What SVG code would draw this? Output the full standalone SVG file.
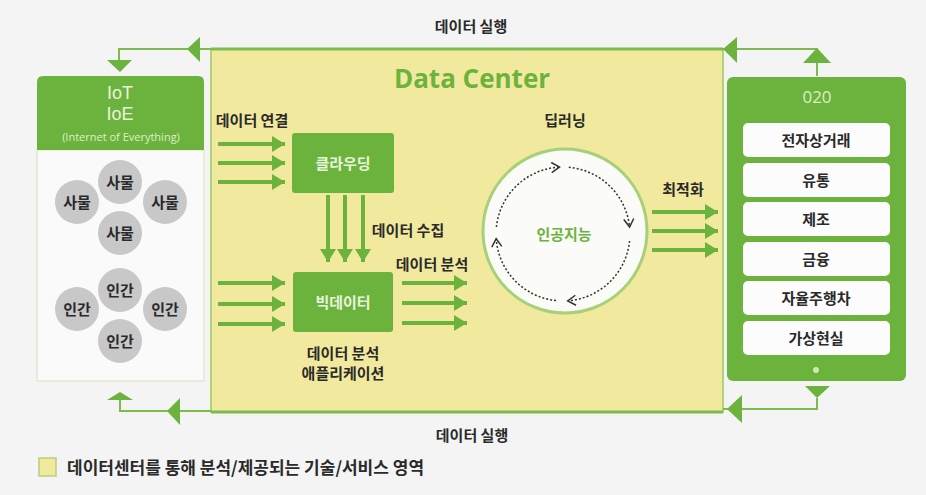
<svg xmlns="http://www.w3.org/2000/svg" width="926" height="495" viewBox="0 0 926 495">
<defs>
<style>
.kr{font-family:"Noto Sans CJK KR","Noto Sans",sans-serif;}
.lbl{font-size:15px;font-weight:700;fill:#2a2a2a;text-anchor:middle;}
.lite{fill:#e9f4dc;}
.garrow{stroke:#6cb33e;stroke-width:4;fill:none;marker-end:url(#gh);}
.gline{stroke:#7dbb4e;stroke-width:2;fill:none;}
.gbox{fill:#6cb33e;}
.item{fill:#fcfcfc;}
.circ{fill:#c8c8c8;}
.dash{stroke:#333;stroke-width:1.5;stroke-dasharray:2 2;fill:none;marker-end:url(#dh);}
.tri{fill:#6cb33e;}
</style>
<marker id="gh" markerUnits="userSpaceOnUse" markerWidth="13" markerHeight="16" refX="13" refY="8" orient="auto">
<path d="M0,0 L13,8 L0,16 z" fill="#6cb33e"/>
</marker>
<marker id="dh" markerUnits="userSpaceOnUse" markerWidth="11" markerHeight="12" refX="9" refY="6" orient="auto">
<path d="M1,1 L9,6 L1,11" fill="none" stroke="#333" stroke-width="1.5"/>
</marker>
</defs>
<rect x="0" y="0" width="926" height="495" fill="#f4f4f4"/>

<g id="datacenter">
<rect x="211" y="49" width="512" height="363" fill="#f1e99d" stroke="#9cc862" stroke-width="1.5"/>
<line x1="211" y1="49" x2="723" y2="49" stroke="#7dbb4e" stroke-width="3"/>
<line x1="211" y1="412" x2="723" y2="412" stroke="#7dbb4e" stroke-width="3"/>
<text x="472" y="88" font-family="'Open Sans','Noto Sans',sans-serif" font-size="26" font-weight="700" fill="#6cb33e" text-anchor="middle">Data Center</text>
</g>

<g id="iot">
<rect x="37" y="150" width="167" height="231" fill="#fafafa" stroke="#d2e6b8" stroke-width="1"/>
<path d="M37,150 L37,82 Q37,76 43,76 L198,76 Q204,76 204,82 L204,150 Z" class="gbox"/>
<text x="120" y="99" font-family="'Liberation Sans',Arial,sans-serif" font-size="18" fill="#e9f4dc" text-anchor="middle">IoT</text>
<text x="120" y="120" font-family="'Liberation Sans',Arial,sans-serif" font-size="18" fill="#e9f4dc" text-anchor="middle">IoE</text>
<text x="121" y="141" font-family="'Open Sans','Noto Sans',sans-serif" font-size="11" fill="#dcefc6" text-anchor="middle">(Internet of Everything)</text>
</g>

<g id="things">
<circle class="circ" cx="120" cy="182" r="22"/>
<circle class="circ" cx="77" cy="202" r="22"/>
<circle class="circ" cx="165" cy="202" r="22"/>
<circle class="circ" cx="120" cy="233" r="22"/>
<text class="kr lbl" x="120" y="188" font-size="16">사물</text>
<text class="kr lbl" x="77" y="208" font-size="16">사물</text>
<text class="kr lbl" x="165" y="208" font-size="16">사물</text>
<text class="kr lbl" x="120" y="239" font-size="16">사물</text>
</g>

<g id="humans">
<circle class="circ" cx="120" cy="290" r="22"/>
<circle class="circ" cx="77" cy="309" r="22"/>
<circle class="circ" cx="165" cy="309" r="22"/>
<circle class="circ" cx="120" cy="341" r="22"/>
<text class="kr lbl" x="120" y="296" font-size="16">인간</text>
<text class="kr lbl" x="77" y="315" font-size="16">인간</text>
<text class="kr lbl" x="165" y="315" font-size="16">인간</text>
<text class="kr lbl" x="120" y="347" font-size="16">인간</text>
</g>

<g id="cloud">
<rect x="292" y="133" width="102" height="60" rx="3" class="gbox"/>
<text class="kr lbl lite" x="343" y="169" font-size="16">클라우딩</text>
</g>

<g id="bigdata">
<rect x="293" y="272" width="100" height="60" rx="3" class="gbox"/>
<text class="kr lbl lite" x="343" y="308" font-size="16">빅데이터</text>
</g>

<g id="ai">
<circle cx="565" cy="231" r="82" fill="#fbfbf8" stroke="#a6d07a" stroke-width="3"/>
<text class="kr lbl" x="564" y="240" font-size="17" style="fill:#6cb33e">인공지능</text>
<path class="dash" d="M496.4,227 A67,67 0 0 1 559.5,167.1"/>
<path class="dash" d="M568.8,167.3 A67,67 0 0 1 629.6,227"/>
<path class="dash" d="M629.6,241 A67,67 0 0 1 567.7,300.8"/>
<path class="dash" d="M556,300.6 A67,67 0 0 1 496.2,238.7"/>
</g>

<g id="o2o">
<rect x="727" y="77" width="179" height="304" rx="6" class="gbox"/>
<text x="817" y="103" font-family="'Open Sans','Noto Sans',sans-serif" font-size="17" fill="#dcefc6" text-anchor="middle">020</text>
<rect class="item" x="743" y="123" width="147" height="34" rx="5"/>
<rect class="item" x="743" y="163" width="147" height="34" rx="5"/>
<rect class="item" x="743" y="202" width="147" height="34" rx="5"/>
<rect class="item" x="743" y="242" width="147" height="34" rx="5"/>
<rect class="item" x="743" y="281" width="147" height="34" rx="5"/>
<rect class="item" x="743" y="321" width="147" height="34" rx="5"/>
<text class="kr lbl" x="816" y="146">전자상거래</text>
<text class="kr lbl" x="816" y="186">유통</text>
<text class="kr lbl" x="816" y="225">제조</text>
<text class="kr lbl" x="816" y="265">금융</text>
<text class="kr lbl" x="816" y="304">자율주행차</text>
<text class="kr lbl" x="816" y="344">가상현실</text>
<circle cx="816" cy="370" r="3" fill="#cfe7b2"/>
</g>

<g id="connectors">
<line class="garrow" x1="218" y1="144" x2="285" y2="144"/>
<line class="garrow" x1="218" y1="163" x2="285" y2="163"/>
<line class="garrow" x1="218" y1="182" x2="285" y2="182"/>
<line class="garrow" x1="328" y1="195" x2="328" y2="262"/>
<line class="garrow" x1="345" y1="195" x2="345" y2="262"/>
<line class="garrow" x1="363" y1="195" x2="363" y2="262"/>
<line class="garrow" x1="218" y1="283" x2="285" y2="283"/>
<line class="garrow" x1="218" y1="304" x2="285" y2="304"/>
<line class="garrow" x1="218" y1="324" x2="285" y2="324"/>
<line class="garrow" x1="402" y1="283" x2="467" y2="283"/>
<line class="garrow" x1="402" y1="303" x2="467" y2="303"/>
<line class="garrow" x1="402" y1="323" x2="467" y2="323"/>
<line class="garrow" x1="652" y1="212" x2="718" y2="212"/>
<line class="garrow" x1="652" y1="231" x2="718" y2="231"/>
<line class="garrow" x1="652" y1="250" x2="718" y2="250"/>

<polyline class="gline" points="211,49 119,49 119,60"/>
<polygon class="tri" points="187,49 200,37 200,62"/>
<polygon class="tri" points="107,60 132,60 120,72"/>

<polyline class="gline" points="723,49 817,49 817,76"/>
<polygon class="tri" points="723,49 737,37 737,63"/>
<polygon class="tri" points="817,48 831,63 803,63"/>

<polyline class="gline" points="211,411 120,411 120,400"/>
<polygon class="tri" points="167,411 180,398 180,425"/>
<polygon class="tri" points="120,392 133,400 107,400"/>

<polyline class="gline" points="723,409 817,409 817,398"/>
<polygon class="tri" points="727,409 742,395 742,423"/>
<polygon class="tri" points="805,386 830,386 817,398"/>
</g>

<g id="labels">
<text class="kr lbl" x="471" y="32">데이터 실행</text>
<text class="kr lbl" x="472" y="441">데이터 실행</text>
<text class="kr lbl" x="252" y="126">데이터 연결</text>
<text class="kr lbl" x="565" y="126">딥러닝</text>
<text class="kr lbl" x="408" y="236">데이터 수집</text>
<text class="kr lbl" x="432" y="270">데이터 분석</text>
<text class="kr lbl" x="343" y="359">데이터 분석</text>
<text class="kr lbl" x="343" y="379">애플리케이션</text>
<text class="kr lbl" x="683" y="195">최적화</text>
</g>

<g id="legend">
<rect x="39" y="458" width="17" height="18" fill="#f1e99d" stroke="#b5d07a" stroke-width="1.5"/>
<text class="kr" x="67" y="474" font-size="17" font-weight="700" fill="#2a2a2a">데이터센터를 통해 분석/제공되는 기술/서비스 영역</text>
</g>
</svg>
